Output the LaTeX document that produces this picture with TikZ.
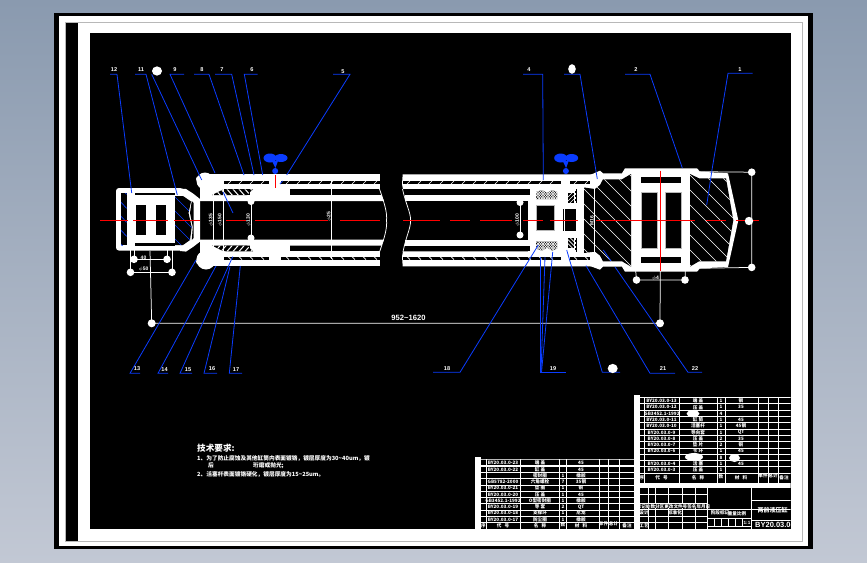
\documentclass[tikz,border=0pt]{standalone}
\usepackage{fontspec}
\setmainfont{Liberation Sans}
\newfontfamily\cjk{Noto Sans CJK SC}
\usetikzlibrary{calc}
\definecolor{bgtop}{HTML}{8A9AAF}
\definecolor{bgbot}{HTML}{C2C8D4}
\definecolor{leadblue}{HTML}{0A3CFF}
\definecolor{cadred}{HTML}{FF0000}
\definecolor{edgegray}{HTML}{B8B8B8}
\tikzset{
  leader/.style={draw=leadblue,line width=0.8pt},
  wfill/.style={fill=white,draw=none},
  hole/.style={fill=black,draw=none},
  center line/.style={draw=cadred,line width=1.1pt},
  dimline/.style={draw=white,line width=0.75pt},
  hatchline/.style={draw=white,line width=0.6pt},
  tick/.style={fill=white,draw=none},
  partlabel/.style={text=white,inner sep=0pt,font=\bfseries\fontsize{5.6}{6}\selectfont},
  dimlabel/.style={text=white,inner sep=0pt,font=\bfseries\fontsize{5}{6}\selectfont},
  celltext/.style={text=white,inner sep=0pt,font=\cjk\bfseries\fontsize{4.6}{5}\selectfont},
  grid/.style={draw=white,line width=0.75pt},
  notetext/.style={text=white,inner sep=0pt,anchor=west,font=\cjk\bfseries\fontsize{5.7}{6}\selectfont},
}
% upper half of the cylinder; called again mirrored for the lower half
\newcommand{\cylhalf}{%
  % left tube and rod
  \fill[wfill] (207,174.3) rectangle (379.5,189.3);
  \fill[wfill] (200,188) rectangle (224,201);
  \fill[wfill] (200,195) -- (381.5,195) -- (384,201) -- (200,201) -- cycle;
  \fill[wfill] (250,184) rectangle (290,201);
  \fill[wfill] (205,181) circle (8.5);
  \fill[wfill] (199,179) circle (3);
  % hatch strips
  \fill[hole] (224,181) rectangle (269,184);
  \fill[hole] (281,181) rectangle (379.5,184);
  \foreach \x in {228,239,...,265,286,297,...,375}
    \draw[hatchline] (\x,184) -- (\x+3,181);
  % jagged seal pocket
  \fill[hole] (212,195) -- (222,190) -- (226,189.3) -- (253,189.3) -- (247,195) -- cycle;
  \begin{scope}
    \clip (212,195) -- (222,190) -- (226,189.3) -- (253,189.3) -- (247,195) -- cycle;
    \foreach \x in {214,220,...,250}
      \draw[draw=white,line width=1pt] (\x,188) -- (\x+7,196);
  \end{scope}
  \fill[hole] (290,189.3) rectangle (379.5,195);
  % right tube and rod
  \fill[wfill] (402.7,174.3) -- (597,174.3) -- (597,189.3) -- (403,189.3) -- (402,184) -- cycle;
  \fill[wfill] (405,195) rectangle (530,201);
  \fill[wfill] (528,184) rectangle (584,220.5);
  \fill[wfill] (580,181) rectangle (600,188);
  \fill[hole] (403,181) rectangle (561,184);
  \fill[hole] (570,181) rectangle (595,184);
  \foreach \x in {407,418,...,557,574,585}
    \draw[hatchline] (\x,184) -- (\x+3,181);
  \fill[hole] (403.4,189.3) rectangle (530,195);
  % piston pockets
  \fill[hole] (536,192) -- (542,190) -- (547,193) -- (552,190) -- (557,192) -- (557,199) -- (536,199) -- cycle;
  \begin{scope}
    \clip (536,192) -- (542,190) -- (547,193) -- (552,190) -- (557,192) -- (557,199) -- (536,199) -- cycle;
    \foreach \x in {530,532.5,...,560} {
      \draw[draw=white,line width=0.6pt] (\x,188) -- (\x+11,200);
      \draw[draw=white,line width=0.6pt] (\x,200) -- (\x+11,188);
    }
  \end{scope}
  \fill[hole] (568,193) rectangle (574,203);
  \foreach \y in {197,201,205}
    \draw[hatchline] (568,\y) -- (574,\y-6);
  \fill[wfill] (568,203) rectangle (574,204);
  \fill[hole] (575,189) rectangle (577,203);
  \draw[draw=white,line width=0.8pt,dash pattern=on 2pt off 2pt] (575.5,189) -- (575.5,203);
}
\begin{document}
\begin{tikzpicture}[x=1pt,y=-1pt]
\useasboundingbox (0,0) rectangle (867,562);
\shade[top color=bgtop,bottom color=bgbot] (0,0) rectangle (867,562);
\fill[black] (54,13) rectangle (813,549);
\fill[white] (59,15.5) rectangle (808,546);
\draw[draw=edgegray,line width=0.8pt] (65,22) rectangle (802,541);
\fill[black] (65.5,22.5) rectangle (78,540.5);
\fill[black] (89.5,33) rectangle (790.5,529);

% ---------- clevis, rod end ----------
\fill[wfill,rounded corners=3pt] (116,188) rectangle (183,250.6);
\fill[wfill] (180,188.5) -- (186,189) -- (193,193.5) -- (200,199) -- (200,241.6) -- (193,247) -- (186,251.6) -- (180,251) -- cycle;
\fill[hole] (121,193) rectangle (126.7,245);
\fill[hole] (135,192.7) rectangle (175,195);
\fill[hole] (135,243) rectangle (175,245.7);
\fill[hole] (136,205) rectangle (146,235);
\fill[hole] (156,205) rectangle (166,235);
\fill[hole] (175,196) -- (183,196) -- (191,201.5) -- (188.5,213) -- (191.7,227) -- (190,240) -- (183,245) -- (175,245) -- cycle;
\fill[hole] (191.8,201) -- (193.5,203) -- (193.5,238) -- (191.8,240) -- (192.8,227) -- (190,213) -- cycle;
\begin{scope}
  \clip (121,193) rectangle (126.7,245);
  \foreach \y in {185,199,...,245}
    \draw[draw=leadblue,line width=0.7pt] (118,\y) -- (130,\y+13);
\end{scope}
\begin{scope}
  \clip (175,196) -- (183,196) -- (191,201.5) -- (188.5,213) -- (191.7,227) -- (190,240) -- (183,245) -- (175,245) -- cycle;
  \foreach \y in {180,194,...,250}
    \draw[draw=leadblue,line width=0.7pt] (172,\y) -- (195,\y+23);
\end{scope}

% ---------- tube halves ----------
\cylhalf
\begin{scope}[shift={(0,440.6)},yscale=-1]
  \cylhalf
\end{scope}
% break lines
\draw[dimline] (379.5,189) .. controls (385,205) and (387,212) .. (386.6,220.3) .. controls (387,229) and (385,236) .. (379.5,252);
\draw[dimline] (402.5,189) .. controls (406,205) and (410.6,212) .. (410.6,220.3) .. controls (410.6,229) and (406,236) .. (403,252);
\fill[wfill] (206,260) circle (9.5);
% piston windows
\fill[hole] (536,205) rectangle (554,230);
\draw[draw=edgegray,line width=0.6pt] (536,205) rectangle (554,230);
\fill[hole] (563,209) rectangle (576,231);
\draw[draw=white,line width=1pt] (564.3,209) -- (564.3,231);

% ---------- end body ----------
\fill[wfill] (590,175) -- (600,170.7) -- (603,173.3) -- (622,173.3) -- (625,168.3) -- (697,168.3) -- (700,171.7) -- (728,173.3) -- (738.3,220.3) -- (728,267) -- (700,268.3) -- (697,271.7) -- (625,271.7) -- (622,266.7) -- (603,266.7) -- (600,269.7) -- (590,266) -- cycle;
\fill[hole] (584,187.5) -- (595,189) -- (600,185) -- (603,179.3) -- (622,179.3) -- (631,174) -- (631,266.6) -- (622,261.3) -- (603,261.3) -- (600,255.6) -- (595,251.6) -- (584,253) -- cycle;
\begin{scope}
  \clip (584,187.5) -- (595,189) -- (600,185) -- (603,179.3) -- (622,179.3) -- (631,174) -- (631,266.6) -- (622,261.3) -- (603,261.3) -- (600,255.6) -- (595,251.6) -- (584,253) -- cycle;
  \foreach \x in {470,485,...,640}
    \draw[hatchline] (\x,165) -- (\x+110,275);
\end{scope}
\fill[hole] (690,174) -- (699,178.3) -- (726,178.3) -- (733.3,220.3) -- (726,261.3) -- (699,261.3) -- (690,266.6) -- cycle;
\begin{scope}
  \clip (690,174) -- (699,178.3) -- (726,178.3) -- (733.3,220.3) -- (726,261.3) -- (699,261.3) -- (690,266.6) -- cycle;
  \foreach \x in {590,605,...,740}
    \draw[hatchline] (\x,165) -- (\x+110,275);
\end{scope}
\fill[hole] (641,177) rectangle (681,183);
\fill[hole] (641,257) rectangle (681,263);
\fill[hole] (641,192) rectangle (657,248);
\fill[hole] (665,192) rectangle (681,248);
\draw[draw=edgegray,line width=0.5pt] (641,192) rectangle (657,248) (665,192) rectangle (681,248);

% ---------- centre lines ----------
\foreach \a/\b in {100/128,133/168,174/200,226/246,255/328,340/380,403/440,450/470,480/512,523/543,550/578,596/695,706/726,736/759}
  \draw[center line] (\a,220.4) -- (\b,220.4);
\draw[center line] (660.3,170.7) -- (660.3,270.7);
\draw[center line] (275.3,175) -- (275.3,188);

% ---------- dimensions ----------
\draw[dimline] (213,183) -- (213,256.7);
\draw[dimline] (223,183) -- (223,256.7);
\draw[dimline] (251,201) -- (251,238);
\draw[dimline] (331,180) -- (331,259);
\draw[dimline] (520,202) -- (520,235);
\draw[dimline] (594,187) -- (594,253);
\foreach \x/\y in {251/201.5,251/238,520/202.5,520/235}
  \fill[tick] (\x,\y) circle (3.5);
\node[dimlabel,rotate=90] (dA) at (211,220.4) {$\phi$135};
\node[dimlabel,rotate=90] (dB) at (220,220.4) {$\phi$150};
\node[dimlabel,rotate=90] (dC) at (248.7,220.4) {$\phi$130};
\node[dimlabel,rotate=90] (dD) at (329,217) {$\phi$25};
\node[dimlabel,rotate=90] (dE) at (517.5,220.4) {$\phi$100};
\node[dimlabel,rotate=90] (dF) at (592,220.4) {M16};

% length dimension
\coordinate (lenL) at (151.7,323.3);
\coordinate (lenR) at (660,323.3);
\draw[dimline] (150,251) -- (lenL) -- (lenR) -- (660.3,271);
\fill[tick] (lenL) circle (4);
\fill[tick] (lenR) circle (4);
\node[text=white,inner sep=0pt,font=\bfseries\fontsize{7.6}{8}\selectfont] (dLen) at (408.5,318.2) {952\textasciitilde 1620};
% small dimensions at the left
\coordinate (a1) at (134,259.3); \coordinate (a2) at (167,259.3);
\coordinate (b1) at (130.5,272.3); \coordinate (b2) at (172,272.3);
\draw[dimline] (a1) -- (a2) (b1) -- (b2);
\draw[dimline] (130.5,250) -- (b1) (172,250) -- (b2) (134,250) -- (a1) (167,250) -- (a2);
\foreach \c in {a1,a2,b1,b2} \fill[tick] (\c) circle (3.8);
\node[dimlabel] (dG) at (143.5,257.5) {40};
\node[dimlabel] (dH) at (143.5,269.5) {$\phi$50};
% dimension under the body
\coordinate (c1) at (636.5,280); \coordinate (c2) at (685,280);
\draw[dimline] (c1) -- (c2) (635.7,271) -- (c1) (685.3,271) -- (c2);
\fill[tick] (c1) circle (3.8);
\fill[tick] (c2) circle (3.8);
\node[dimlabel] (dI) at (655.5,278.5) {$\phi$4};
% dimension at the right end
\coordinate (e1) at (751.7,172.2); \coordinate (e2) at (751.7,267.4); \coordinate (e3) at (749,221);
\draw[dimline] (700,171.7) -- (e1) -- (e2) -- (700,268.3);
\fill[tick] (e1) circle (3.8);
\fill[tick] (e2) circle (3.8);
\fill[tick] (e3) circle (4.2);

% ---------- valves ----------
\foreach \x in {276,566.7} {
  \fill[leadblue] (\x-6,158) ellipse (6.5 and 4.5);
  \fill[leadblue] (\x+5,158) ellipse (6.5 and 4);
  \fill[leadblue] (\x-4,161) -- (\x+2,161) -- (\x-0.6,168) -- cycle;
  \fill[leadblue] (\x-0.8,171) circle (3);
}

% ---------- leaders, top ----------
\draw[leader] (110,74.3) -- (117,74.3) -- (131.7,193);
\draw[leader] (135,74.3) -- (146,74.3) -- (177.3,195);
\draw[leader] (151.7,74.3) -- (201.7,180);
\draw[leader] (184,74.3) -- (170,74.3) -- (215,173);
\draw[leader] (223,192) -- (233,213);
\draw[leader] (194,74.3) -- (209,74.3) -- (244,175);
\draw[leader] (215,74.3) -- (231.7,74.3) -- (254,175);
\draw[leader] (257.7,74.3) -- (244.3,74.3) -- (262.7,175);
\draw[leader] (333,74.3) -- (350,74.3) -- (286.7,175);
\draw[leader] (282.5,181) -- (280,184);
\draw[leader] (523,74.3) -- (542.7,74.3) -- (543.3,180);
\draw[leader] (564,74.3) -- (580,74.3) -- (597.3,179);
\draw[leader] (625,74.3) -- (650,74.3) -- (682.3,168);
\draw[leader] (752.7,73.3) -- (728,73.3) -- (712.3,168) -- (706.7,205);
% ---------- leaders, bottom ----------
\draw[leader] (140,373.3) -- (130,373.3) -- (196,260);
\draw[leader] (168,373.3) -- (158,373.3) -- (216,266);
\draw[leader] (192,373.3) -- (180,373.3) -- (232.7,256.7);
\draw[leader] (217,373.3) -- (204,373.3) -- (230,266.7);
\draw[leader] (242,373.3) -- (229.3,373.3) -- (240.3,266);
\draw[leader] (433,372.3) -- (460,372.3) -- (538.3,245);
\draw[leader] (565.7,372.3) -- (540.7,372.3) -- (540.7,257);
\draw[leader] (541,372.3) -- (545,257);
\draw[leader] (541.5,372.3) -- (552.7,252);
\draw[leader] (620,372.3) -- (602.3,372.3) -- (566.7,250);
\draw[leader] (675,373.3) -- (650,373.3) -- (586,265.7);
\draw[leader] (702,372.3) -- (688,372.3) -- (615,267);
\draw[leader] (611,261) -- (603.3,250);

% ---------- part numbers ----------
\foreach \t/\x/\y in {12/114/70,11/141/70,9/175/70,8/202/70,7/222/70,6/252/70,5/343/71.5,4/529/70,2/636/70,1/740/70,13/137/369,14/164.6/369.5,15/188/369.5,16/212/369,17/236/369.5,18/447/369,19/553/369,21/663/369,22/695/369}
  \node[partlabel] (p\t) at (\x,\y) {\t};
\fill[white] (157,71) ellipse (5 and 4.6);
\fill[white] (572,69) ellipse (3.8 and 4.8);
\fill[white] (612.7,368.5) ellipse (5 and 4.6);

% ---------- technical notes ----------
\node[notetext,font=\cjk\bfseries\fontsize{8.6}{9}\selectfont] (n0) at (197,448) {技术要求:};
\node[notetext] (n1) at (197,458) {1、为了防止腐蚀及其他缸筒内表面镀铬，镀层厚度为30\textasciitilde40um，镀};
\node[notetext] (n2) at (208,465.5) {后};
\node[notetext] (n3) at (253,465.5) {珩磨或抛光;};
\node[notetext] (n4) at (197,474) {2、活塞杆表面镀铬硬化，镀层厚度为15\textasciitilde25um。};

% ---------- left parts list ----------
\fill[white] (475,457) rectangle (481,529);
\draw[draw=edgegray,line width=1.4pt] (481,459.3) -- (634,459.3);
\draw[grid,line width=1.6pt] (481,466) -- (634,466);
\foreach \y in {472.3,478.6,484.9,491.2,497.5,503.8,510.1,516.4,522.5}
  \draw[grid] (481,\y) -- (634,\y);
\foreach \x in {486,520.7,559,566.7,599,608,619}
  \draw[grid] (\x,459.3) -- (\x,529);
\foreach \n/\y/\a/\b/\c/\d in {
  1/463/BY20.03.0-23/端\ 盖/{}/45,
  2/469.4/BY20.03.0-22/缸\ 盖/{}/45,
  3/475.6/{}/密封圈/1/橡胶,
  4/481.8/GB5782-2000/六角螺栓/7/35钢,
  5/488/BY20.03.0-21/垫\ 圈/1/铜,
  6/494.4/BY20.03.0-20/压\ 盖/1/45,
  7/500.6/GB3452.1-1992/O型密封圈/1/橡胶,
  8/507/BY20.03.0-19/导\ 套/2/QT,
  9/513.2/BY20.03.0-18/支撑环/1/尼龙,
  10/519.4/BY20.03.0-17/防尘圈/1/橡胶}
{
  \node[celltext] (la\n) at (503,\y) {\a};
  \node[celltext] (lb\n) at (540,\y) {\b};
  \node[celltext] (lc\n) at (563,\y) {\c};
  \node[celltext] (ld\n) at (581,\y) {\d};
}
\node[celltext] (lh0) at (483.5,526) {序};
\node[celltext] (lh1) at (503,526) {代\ \ \ 号};
\node[celltext] (lh2) at (540,526) {名\ \ \ 称};
\node[celltext] (lh3) at (563,525) {数};
\node[celltext] (lh4) at (581,526) {材\ \ \ 料};
\node[celltext] (lh5) at (603.5,524) {单件};
\node[celltext] (lh6) at (613.5,524) {总计};
\node[celltext] (lh7) at (627,526) {备注};

% ---------- right parts list ----------
\begin{scope}
\clip (634,390) rectangle (790.5,529);
\fill[white] (634,395) rectangle (640,529);
\draw[grid,line width=1.6pt] (640,397.5) -- (790.5,397.5);
\foreach \k in {1,...,12}
  \draw[grid] (640,397.5+6.3*\k) -- (790.5,397.5+6.3*\k);
\foreach \x in {644,679,717,725,758,768,778}
  \draw[grid] (\x,397.5) -- (\x,482.5);
\fill[white] (634,482.5) rectangle (790.5,488);
\foreach \n/\y/\a/\b/\c/\d in {
  1/401/BY20.03.0-13/端\ 盖/1/钢,
  2/407.3/BY20.03.0-12/压\ 盖/1/35,
  4/420/BY20.03.0-11/缸\ 筒/1/45,
  5/426.2/BY20.03.0-10/活塞杆/1/45钢,
  6/432.4/BY20.03.0-9/导向套/1/QT,
  7/438.7/BY20.03.0-8/压\ 盖/2/35,
  8/445/BY20.03.0-7/垫\ 片/2/铜,
  9/451.2/BY20.03.0-6/卡\ 环/1/45,
  11/464/BY20.03.0-4/活\ 塞/1/45,
  12/470/BY20.03.0-3/压\ 盖/1/{}}
{
  \node[celltext] (ra\n) at (661.5,\y) {\a};
  \node[celltext] (rb\n) at (698,\y) {\b};
  \node[celltext] (rc\n) at (721,\y) {\c};
  \node[celltext] (rd\n) at (741,\y) {\d};
}
\node[celltext] (ra3) at (662,413.6) {GB3452.1-1992};
\node[celltext] (rc3) at (721,413.6) {4};
\node[celltext] (rc10) at (721,457.5) {8};
\fill[white] (693,413.6) ellipse (6.5 and 3.6);
\fill[white] (694,457) ellipse (9 and 4);
\fill[white] (734.5,458) ellipse (5.5 and 4);
\node[celltext] (rh0) at (642,478) {序};
\node[celltext] (rh1) at (661.5,478) {代\ \ \ 号};
\node[celltext] (rh2) at (698,478) {名\ \ \ 称};
\node[celltext] (rh3) at (721,477) {数};
\node[celltext] (rh4) at (741,478) {材\ \ \ 料};
\node[celltext] (rh5) at (763,475.5) {单件};
\node[celltext] (rh6) at (773,475.5) {总计};
\node[celltext] (rh7) at (784,478) {备注};

% ---------- title block ----------
\foreach \y in {494,503,509,516,522}
  \draw[grid] (640,\y) -- (707,\y);
\foreach \x in {648,655,668,682,695}
  \draw[grid] (\x,488) -- (\x,529);
\draw[grid] (707,488) -- (707,529);
\draw[grid] (751.5,488) -- (751.5,529);
\draw[grid] (707,509) -- (790.5,509);
\draw[grid] (707,518) -- (751.5,518);
\draw[grid] (707,526) -- (751.5,526);
\draw[grid] (751.5,500.7) -- (790.5,500.7);
\draw[grid] (751.5,520) -- (790.5,520);
\foreach \x in {714,721,728,735}
  \draw[grid] (\x,518) -- (\x,526);
\draw[grid] (742,518) -- (742,526);
\fill[hole] (640.5,504) rectangle (706.5,508.4);
\node[celltext] (t1) at (673.5,506.3) {标记处数分区更改文件号签名年月日};
\node[celltext] (t2) at (644,513) {设计};
\node[celltext] (t3) at (675,512.5) {标准化};
\node[celltext] (t4) at (644,525.5) {工艺};
\node[celltext] (t5) at (720,513) {阶段标记};
\node[celltext] (t6) at (737,514) {重量比例};
\node[celltext,font=\bfseries\fontsize{4.6}{5}\selectfont] (t7) at (747,522.5) {1:1};
\node[celltext,font=\cjk\bfseries\fontsize{6}{7}\selectfont] (t8) at (772.5,510.5) {两前液压缸};
\node[text=white,inner sep=0pt,anchor=west,font=\bfseries\fontsize{7.5}{8}\selectfont] (t9) at (755,524.5) {BY20.03.0-0};
\end{scope}
\end{tikzpicture}
\end{document}
